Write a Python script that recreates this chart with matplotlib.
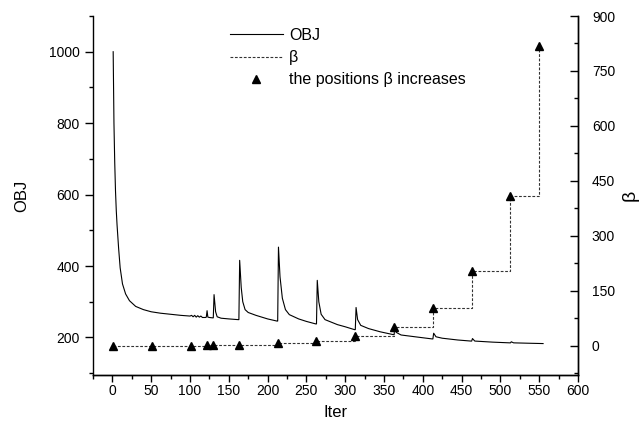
import matplotlib
matplotlib.use("Agg")
import matplotlib.pyplot as plt
from matplotlib.ticker import MultipleLocator
from matplotlib.lines import Line2D

plt.rcParams["font.family"] = ["Liberation Sans", "DejaVu Sans"]

# --- data --------------------------------------------------------------------
# objective value per iteration (hand-read points, spikes after each beta step)
obj_iter = [1, 2, 3, 4, 5, 6, 8, 10, 13, 17, 22, 30, 40, 50, 62, 75, 88, 100,
            102, 104, 106, 108, 110, 112, 114, 116, 120, 121, 122, 123, 125, 129,
            130, 131, 133, 135, 140, 150, 162, 163, 164, 166, 168, 171, 175, 185,
            200, 212, 213, 214, 216, 219, 223, 228, 240, 250, 262, 263, 264, 266,
            269, 274, 290, 300, 312, 313, 314, 316, 320, 330, 345, 362, 363, 364,
            366, 372, 390, 412, 413, 414, 417, 425, 445, 462, 463, 464, 467, 490,
            512, 513, 514, 517, 535, 555]
obj_vals = [1000, 800, 690, 610, 555, 515, 450, 395, 350, 322, 303, 287, 278, 272, 268, 265, 262, 260,
            262, 258, 262, 257, 261, 257, 260, 256, 256, 257, 275, 257, 256, 255,
            255, 320, 272, 258, 254, 252, 250, 250, 416, 340, 300, 278, 270, 262,
            252, 246, 246, 453, 370, 310, 278, 264, 252, 245, 238, 238, 360, 300,
            265, 250, 236, 230, 222, 222, 284, 250, 234, 225, 216, 208, 208, 226,
            214, 207, 202, 196, 196, 212, 202, 198, 193, 190, 190, 197, 190, 187,
            185, 185, 188, 185, 184, 183]

# iterations where beta is doubled, and the beta value from then on
beta_iter = [1, 51, 101, 122, 130, 163, 213, 263, 313, 363, 413, 463, 513, 550]
beta_vals = [0.1, 0.2, 0.4, 0.8, 1.6, 3.2, 6.4, 12.8, 25.6, 51.2, 102.4, 204.8, 409.6, 819.2]

fig = plt.figure(figsize=(6.44, 4.32), dpi=100)
ax = fig.add_axes([93 / 644, 57 / 432, 485 / 644, 359 / 432])
ax2 = ax.twinx()

ax.plot(obj_iter, obj_vals, color="black", lw=0.8)
ax2.step(beta_iter, beta_vals, where="post", color="#333333", lw=0.8,
         linestyle=(0, (2.5, 1.5)))
ax2.plot(beta_iter, beta_vals, linestyle="none", marker="^", color="black",
         markersize=5.5)

ax.set_xlim(-25, 600)
ax.set_ylim(95, 1100)
ax2.set_ylim(-80, 900)

ax.xaxis.set_major_locator(MultipleLocator(50))
ax.xaxis.set_minor_locator(MultipleLocator(25))
ax.yaxis.set_major_locator(MultipleLocator(200))
ax.yaxis.set_minor_locator(MultipleLocator(100))
ax2.yaxis.set_major_locator(MultipleLocator(150))
ax2.yaxis.set_minor_locator(MultipleLocator(75))

for a in (ax, ax2):
    a.spines["top"].set_visible(False)
ax2.spines["left"].set_visible(False)
for a in (ax, ax2):
    for s in a.spines.values():
        s.set_linewidth(1.0)

ax.tick_params(axis="y", which="major", direction="out", length=6, width=1,
               labelsize=10)
ax.tick_params(axis="x", which="major", direction="out", length=5, width=1,
               labelsize=10, pad=1.5)
ax.tick_params(axis="both", which="minor", direction="out", length=3, width=1)
ax2.tick_params(axis="y", which="major", direction="in", length=6, width=1,
                labelsize=10, pad=10)
ax2.tick_params(axis="y", which="minor", direction="in", length=3, width=1)

ax.set_xlabel("Iter", fontsize=12, labelpad=5)
ax.set_ylabel("OBJ", fontsize=12, labelpad=14)
ax2.set_ylabel("β", fontsize=14, labelpad=5)

handles = [
    Line2D([], [], color="black", lw=0.8),
    Line2D([], [], color="#333333", lw=0.8, linestyle=(0, (2.5, 1.5))),
    Line2D([], [], color="black", linestyle="none", marker="^", markersize=5.5),
]
labels = ["OBJ", "β", "the positions β increases"]
fig.legend(handles, labels, loc="upper left", bbox_to_anchor=(230 / 644, 1 - 28 / 432),
           frameon=False, fontsize=11.5, handlelength=3.3, handletextpad=0.4,
           labelspacing=0.45, borderpad=0, borderaxespad=0)

fig.savefig("out.png", dpi=100)
